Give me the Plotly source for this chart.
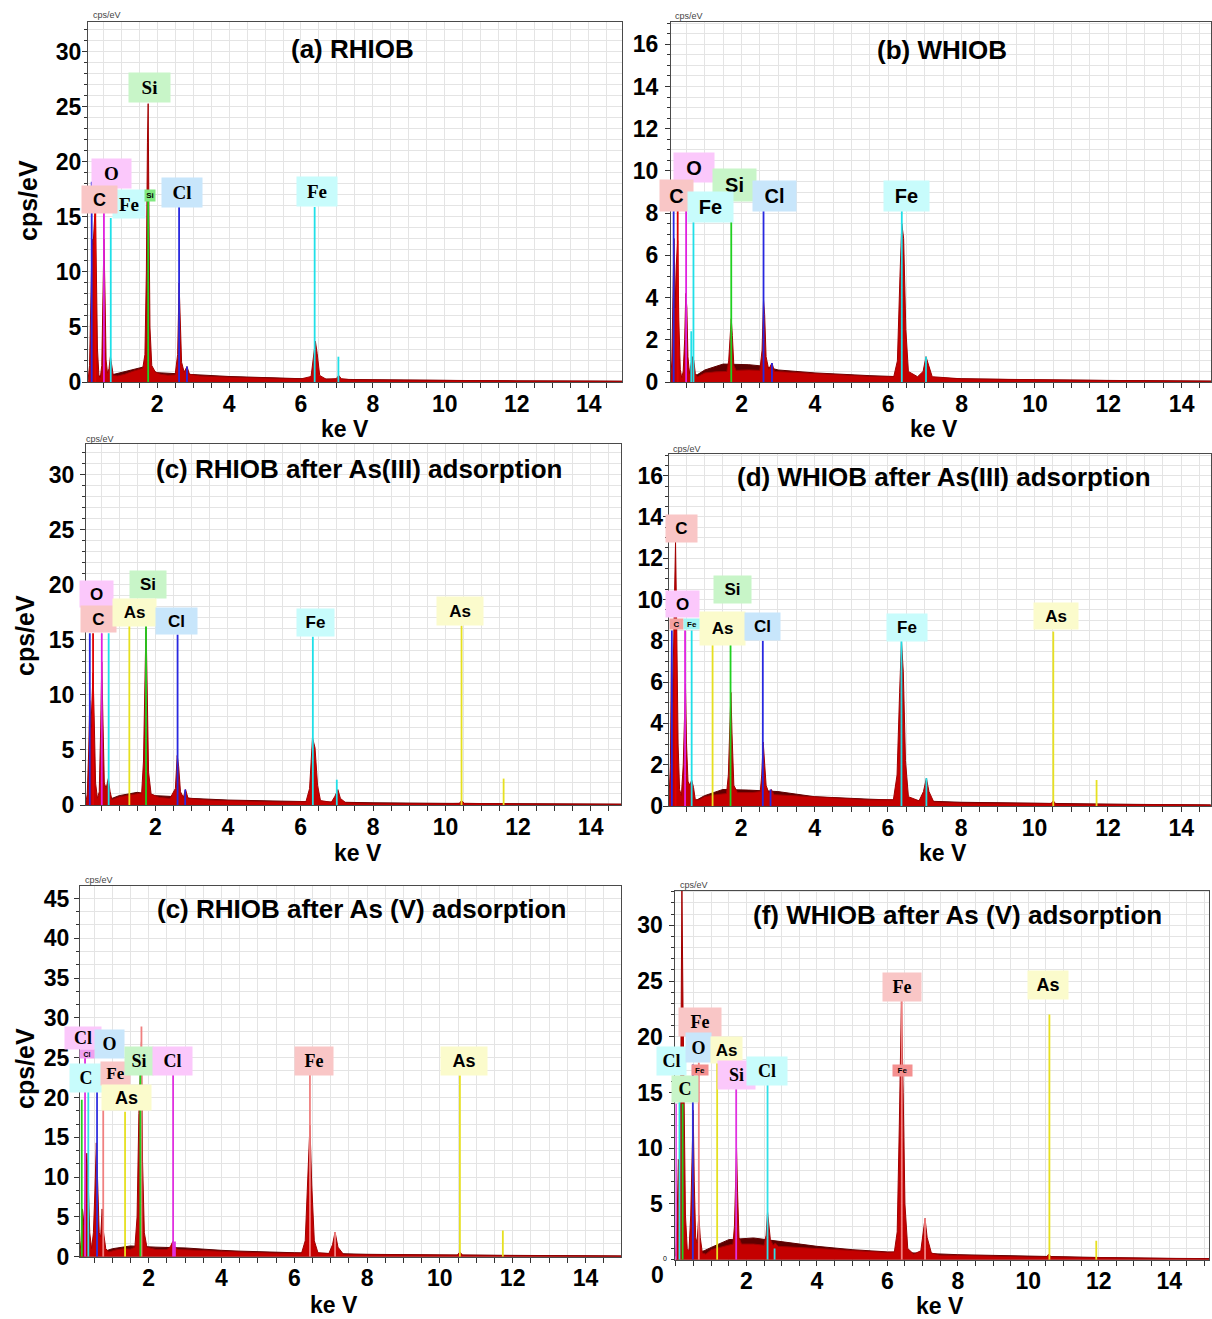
import plotly.graph_objects as go

FIG_W, FIG_H = 1212, 1332
LAYOUT_H = 1319  # vertical layout grid the panel positions are laid out on

# ---------------- EDS spectra: energy (keV) / intensity (cps/eV) ----------------
E_A = [0.08, 0.12, 0.16, 0.19, 0.22, 0.25, 0.28, 0.31, 0.34, 0.38, 0.42, 0.46, 0.49, 0.52, 0.55, 0.58,
       0.62, 0.66, 0.70, 0.74, 0.78, 0.9, 1.1, 1.3, 1.5, 1.6, 1.66, 1.70, 1.73, 1.75, 1.77, 1.80, 1.85,
       1.95, 2.1, 2.3, 2.5, 2.57, 2.61, 2.64, 2.68, 2.75, 2.83, 2.9, 3.2, 4.0, 5.0, 6.0, 6.28, 6.35, 6.40,
       6.45, 6.52, 6.7, 6.98, 7.05, 7.12, 7.4, 8.0, 9.0, 10.0, 12.0, 14.0, 14.95]
I_A = [0.2, 1.5, 8.0, 13.0, 12.5, 14.0, 16.0, 10.0, 3.0, 0.6, 0.4, 1.5, 8.0, 13.0, 8.0, 2.0,
       0.8, 1.2, 2.3, 1.2, 0.6, 0.55, 0.7, 0.95, 1.15, 1.25, 2.5, 10.0, 21.8, 25.3, 16.0, 5.0, 1.5,
       0.9, 0.7, 0.62, 0.65, 2.5, 9.0, 6.0, 1.8, 0.9, 1.4, 0.7, 0.55, 0.45, 0.36, 0.28, 0.5, 2.5, 3.7,
       2.6, 0.6, 0.25, 0.3, 0.6, 0.3, 0.2, 0.18, 0.15, 0.12, 0.1, 0.08, 0.06]
BG_E_A = [0.08, 0.3, 0.8, 1.2, 1.6, 2.0, 2.6, 3.0, 4.0, 5.0, 6.0, 8.0, 10.0, 12.0, 14.95]
BG_I_A = [0.0, 0.5, 0.7, 1.0, 1.35, 0.85, 0.75, 0.65, 0.5, 0.4, 0.3, 0.2, 0.14, 0.1, 0.07]

E_B = [0.07, 0.1, 0.13, 0.16, 0.19, 0.22, 0.26, 0.29, 0.33, 0.37, 0.41, 0.45, 0.48, 0.51, 0.54, 0.58,
       0.62, 0.66, 0.70, 0.74, 0.8, 1.0, 1.3, 1.6, 1.65, 1.69, 1.72, 1.75, 1.79, 1.85, 2.2, 2.5, 2.56,
       2.60, 2.63, 2.67, 2.74, 2.83, 2.9, 3.5, 4.5, 5.5, 6.15, 6.25, 6.32, 6.37, 6.42, 6.48, 6.55, 6.8,
       6.95, 7.03, 7.1, 7.2, 8.0, 10.0, 12.0, 14.8]
I_B = [0.1, 1.0, 4.0, 6.8, 3.5, 5.5, 6.7, 3.0, 0.6, 0.2, 0.5, 2.0, 4.2, 3.5, 1.2, 0.4,
       0.8, 1.2, 1.0, 0.4, 0.25, 0.43, 0.48, 0.5, 1.0, 2.5, 3.0, 2.2, 0.8, 0.55, 0.57, 0.55, 1.5,
       3.9, 3.2, 1.2, 0.6, 0.9, 0.5, 0.45, 0.35, 0.27, 0.25, 1.0, 5.0, 7.5, 6.8, 2.5, 0.5, 0.25,
       0.5, 1.2, 0.8, 0.25, 0.15, 0.1, 0.07, 0.04]
BG_E_B = [0.07, 0.8, 1.0, 1.5, 2.2, 2.6, 3.0, 4.0, 5.5, 8.0, 10.0, 12.0, 14.8]
BG_I_B = [0.0, 0.35, 0.57, 0.85, 0.82, 0.75, 0.57, 0.43, 0.3, 0.15, 0.1, 0.07, 0.04]

E_C = [0.08, 0.12, 0.16, 0.19, 0.22, 0.25, 0.28, 0.31, 0.35, 0.4, 0.45, 0.49, 0.52, 0.55, 0.59, 0.64,
       0.70, 0.75, 0.8, 1.0, 1.3, 1.5, 1.62, 1.67, 1.71, 1.74, 1.77, 1.81, 1.88, 2.1, 2.4, 2.55, 2.60,
       2.64, 2.69, 2.77, 2.83, 2.9, 3.5, 4.5, 5.5, 6.15, 6.25, 6.33, 6.40, 6.47, 6.55, 6.85, 6.95, 7.03,
       7.1, 7.25, 8.0, 10.0, 10.38, 10.44, 10.52, 12.0, 14.85]
I_C = [0.2, 1.0, 5.0, 9.5, 7.0, 10.2, 12.0, 8.0, 2.0, 0.6, 1.2, 7.0, 13.0, 8.0, 2.0, 1.5,
       2.4, 1.2, 0.5, 0.75, 0.9, 1.0, 1.1, 4.0, 13.0, 16.5, 11.0, 3.0, 1.0, 0.7, 0.6, 1.5, 4.5,
       3.5, 1.2, 0.7, 1.4, 0.6, 0.45, 0.35, 0.28, 0.3, 1.5, 6.1, 5.2, 1.8, 0.4, 0.25, 0.8, 1.4,
       0.6, 0.2, 0.15, 0.12, 0.15, 0.4, 0.15, 0.1, 0.07]
BG_E_C = [0.08, 0.8, 1.0, 1.5, 2.0, 2.6, 3.0, 4.0, 5.5, 8.0, 10.0, 12.0, 14.85]
BG_I_C = [0.0, 0.6, 0.85, 1.15, 0.85, 0.75, 0.6, 0.45, 0.35, 0.2, 0.15, 0.1, 0.07]

E_D = [0.03, 0.07, 0.10, 0.13, 0.17, 0.21, 0.24, 0.28, 0.32, 0.37, 0.42, 0.45, 0.48, 0.51, 0.55, 0.6,
       0.65, 0.7, 0.75, 0.85, 1.0, 1.3, 1.6, 1.65, 1.69, 1.72, 1.75, 1.8, 1.9, 2.3, 2.52, 2.56, 2.60,
       2.63, 2.68, 2.75, 2.82, 2.9, 3.5, 4.5, 5.5, 6.15, 6.25, 6.32, 6.37, 6.42, 6.48, 6.56, 6.85, 6.97,
       7.05, 7.12, 7.25, 8.0, 10.0, 10.45, 10.51, 10.58, 12.0, 14.8]
I_D = [0.3, 2.0, 8.0, 5.0, 9.0, 12.8, 9.0, 3.0, 0.8, 0.5, 2.0, 4.6, 5.9, 3.0, 1.2, 1.0,
       1.26, 0.9, 0.3, 0.3, 0.45, 0.55, 0.6, 1.5, 4.7, 5.5, 3.5, 1.0, 0.65, 0.65, 0.7, 1.5, 3.1,
       2.4, 1.0, 0.65, 0.8, 0.55, 0.5, 0.4, 0.3, 0.3, 1.5, 5.5, 8.0, 6.5, 2.2, 0.45, 0.25, 0.7,
       1.35, 0.7, 0.2, 0.15, 0.12, 0.12, 0.25, 0.1, 0.08, 0.05]
BG_E_D = [0.03, 0.8, 1.0, 1.5, 2.2, 3.0, 4.0, 5.5, 8.0, 10.0, 12.0, 14.8]
BG_I_D = [0.0, 0.3, 0.5, 0.8, 0.77, 0.7, 0.45, 0.33, 0.18, 0.13, 0.09, 0.05]

E_E = [0.11, 0.14, 0.18, 0.22, 0.26, 0.30, 0.34, 0.38, 0.43, 0.48, 0.52, 0.56, 0.60, 0.64, 0.68, 0.72,
       0.76, 0.82, 0.9, 1.1, 1.3, 1.5, 1.62, 1.68, 1.73, 1.77, 1.80, 1.83, 1.88, 1.95, 2.2, 2.5, 2.6,
       2.66, 2.72, 2.8, 3.5, 4.5, 5.5, 6.2, 6.3, 6.37, 6.43, 6.48, 6.55, 6.65, 6.95, 7.05, 7.12, 7.2,
       7.35, 8.0, 10.0, 10.48, 10.55, 10.62, 12.0, 14.99]
I_E = [0.3, 2.0, 6.0, 4.0, 9.0, 13.0, 9.0, 3.0, 1.0, 3.0, 8.0, 14.3, 9.0, 3.0, 2.5, 6.0,
       3.0, 1.0, 0.6, 0.85, 1.0, 0.95, 1.2, 5.0, 18.0, 23.0, 27.0, 12.0, 3.0, 1.2, 0.9, 0.9, 1.3,
       1.9, 1.2, 0.9, 0.75, 0.6, 0.45, 0.45, 2.0, 10.0, 16.5, 9.0, 2.0, 0.5, 0.4, 1.5, 3.1, 1.2,
       0.3, 0.25, 0.2, 0.2, 0.6, 0.2, 0.13, 0.08]
BG_E_E = [0.11, 0.8, 1.0, 1.5, 2.2, 3.0, 4.0, 4.5, 6.0, 8.0, 10.0, 12.0, 14.99]
BG_I_E = [0.0, 0.7, 1.0, 1.35, 1.2, 1.1, 0.8, 0.7, 0.5, 0.3, 0.22, 0.15, 0.09]

E_F = [-0.014, 0.03, 0.07, 0.11, 0.14, 0.17, 0.20, 0.23, 0.27, 0.32, 0.37, 0.42, 0.46, 0.49, 0.52, 0.56,
       0.60, 0.65, 0.69, 0.75, 0.85, 1.0, 1.3, 1.5, 1.62, 1.66, 1.69, 1.72, 1.75, 1.79, 1.86, 2.2, 2.5,
       2.56, 2.60, 2.63, 2.68, 2.76, 2.82, 2.9, 3.5, 4.0, 5.0, 6.0, 6.2, 6.28, 6.34, 6.40, 6.45, 6.5,
       6.58, 6.75, 6.95, 7.02, 7.07, 7.13, 7.25, 7.5, 8.0, 10.0, 10.52, 10.58, 10.65, 12.0, 14.0, 15.13]
I_F = [0.3, 3.0, 9.0, 5.0, 18.0, 33.5, 23.0, 12.0, 4.0, 1.0, 0.8, 4.0, 10.1, 13.4, 7.0, 2.0,
       1.5, 4.0, 2.0, 0.6, 0.5, 0.9, 1.15, 1.3, 1.4, 3.0, 7.0, 10.0, 6.0, 2.0, 1.4, 1.4, 1.3,
       2.2, 4.3, 3.4, 1.8, 1.3, 1.5, 1.2, 1.1, 1.0, 0.8, 0.65, 0.7, 2.5, 12.0, 23.2, 15.0, 5.0,
       1.0, 0.5, 0.8, 2.5, 3.7, 2.0, 0.6, 0.4, 0.4, 0.25, 0.25, 0.5, 0.25, 0.17, 0.1, 0.08]
BG_E_F = [-0.014, 0.8, 1.0, 1.5, 2.2, 3.0, 4.0, 5.0, 6.0, 8.0, 10.0, 12.0, 14.0, 15.13]
BG_I_F = [0.0, 0.8, 1.1, 1.8, 1.95, 1.6, 1.2, 0.9, 0.7, 0.45, 0.3, 0.2, 0.12, 0.1]

# ---------------- element marker lines: element, energy (keV), height (cps/eV) ----------------
MK_EL_A = ["ref", "C", "O", "Fe", "Si", "Cl", "Cl", "Fe", "Fe"]
MK_E_A = [0.18, 0.28, 0.52, 0.71, 1.75, 2.61, 2.83, 6.38, 7.04]
MK_H_A = [18.2, 15.4, 15.4, 14.9, 16.5, 15.9, 1.4, 15.9, 2.3]

MK_EL_B = ["ref", "C", "O", "Fe", "Fe", "Si", "Cl", "Cl", "Fe", "Fe"]
MK_E_B = [0.15, 0.26, 0.49, 0.63, 0.69, 1.72, 2.60, 2.83, 6.37, 7.03]
MK_H_B = [8.15, 8.15, 9.5, 2.4, 7.6, 7.6, 8.1, 0.9, 8.1, 1.2]

MK_EL_C = ["ref", "C", "O", "Fe", "As", "Si", "Cl", "Cl", "Fe", "Fe", "As", "As"]
MK_E_C = [0.19, 0.28, 0.52, 0.71, 1.28, 1.74, 2.61, 2.82, 6.34, 7.00, 10.44, 11.60]
MK_H_C = [15.6, 15.6, 15.6, 15.6, 16.3, 16.3, 15.5, 1.4, 15.3, 2.3, 16.3, 2.4]

MK_EL_D = ["ref", "C", "O", "Fe", "As", "Si", "Cl", "Cl", "Fe", "Fe", "As", "As"]
MK_E_D = [0.11, 0.21, 0.47, 0.65, 1.22, 1.71, 2.59, 2.80, 6.37, 7.05, 10.51, 11.69]
MK_H_D = [8.5, 8.5, 8.5, 8.5, 7.8, 7.8, 8.0, 0.8, 8.0, 1.35, 8.45, 1.26]

MK_EL_E = ["ref", "Cl", "C", "O", "Fe", "As", "Fe", "Si", "Cl", "Cl", "Fe", "Fe", "As", "As"]
MK_E_E = [0.16, 0.25, 0.34, 0.58, 0.75, 1.35, 1.80, 1.77, 2.67, 2.72, 6.43, 7.12, 10.55, 11.73]
MK_H_E = [19.7, 25.1, 20.9, 21.8, 18.4, 18.2, 28.9, 23.0, 22.9, 1.9, 22.9, 3.1, 22.8, 3.3]

MK_EL_F = ["Si", "Cl", "C", "O", "Fe", "As", "Si", "Cl", "Cl", "Fe", "Fe", "As", "As"]
MK_E_F = [0.0, 0.10, 0.19, 0.48, 0.65, 1.17, 1.71, 2.60, 2.80, 6.41, 7.07, 10.60, 11.93]
MK_H_F = [14.0, 15.5, 14.0, 17.5, 17.7, 17.8, 15.4, 15.7, 1.0, 23.3, 3.7, 22.0, 1.7]

# ---------------- tick labels ----------------
X_TICKS = [2, 4, 6, 8, 10, 12, 14]
Y_TICKS_A = [0, 5, 10, 15, 20, 25, 30]
Y_TICKS_B = [0, 2, 4, 6, 8, 10, 12, 14, 16]
Y_TICKS_C = [0, 5, 10, 15, 20, 25, 30]
Y_TICKS_D = [0, 2, 4, 6, 8, 10, 12, 14, 16]
Y_TICKS_E = [0, 5, 10, 15, 20, 25, 30, 35, 40, 45]
Y_TICKS_F = [5, 10, 15, 20, 25, 30]

TITLES = ["(a) RHIOB", "(b) WHIOB", "(c) RHIOB after As(III) adsorption",
          "(d) WHIOB after As(III) adsorption", "(c) RHIOB after As (V) adsorption",
          "(f) WHIOB after As (V) adsorption"]

# ---------------- styles ----------------
SANS = "Liberation Sans, Arial, sans-serif"
SERIF = "Liberation Serif, Times New Roman, serif"
PINK, SALMON, CYAN, SKY, GREEN, YELLOW = "#fbc8fb", "#f9c6c6", "#c8fcfc", "#c8e6fb", "#c8f5c8", "#fbfbcc"
RED_FILL, MAROON = "#c40000", "#5e0000"

COLS_STD = {"ref": "#2828e0", "C": "#e00000", "O": "#e020e0", "Fe": "#20e0e8",
            "Si": "#20d020", "Cl": "#2828e0", "As": "#e6e020"}
COLS_E = {"ref": "#20d020", "Cl": "#e030e0", "C": "#30e0e8", "O": "#3030e0",
          "Fe": "#f08080", "Si": "#20d020", "As": "#e6e020"}
COLS_F = {"Si": "#e030e0", "Cl": "#30e0e8", "C": "#20d020", "O": "#3030e0",
          "Fe": "#f08080", "As": "#e6e020"}

# element labels: text, x (keV), y (cps/eV), box w, box h, fill, font, size
LBL_A = [("O", 0.72, 18.93, 39, 29, PINK, SERIF, 19), ("Fe", 1.22, 16.16, 32, 28, CYAN, SERIF, 19),
         ("C", 0.386, 16.55, 35, 27, SALMON, SANS, 18), ("Si", 1.79, 26.73, 41, 29, GREEN, SERIF, 19),
         ("Si", 1.80, 16.97, 10, 11, "#80e880", SANS, 8), ("Cl", 2.69, 17.27, 40, 29, SKY, SERIF, 19),
         ("Fe", 6.44, 17.3, 40, 29, CYAN, SERIF, 19)]
LBL_B = [("O", 0.695, 10.14, 40, 29, PINK, SANS, 20), ("Si", 1.81, 9.35, 43, 32, GREEN, SANS, 20),
         ("C", 0.235, 8.84, 33, 31, SALMON, SANS, 20), ("Fe", 1.15, 8.31, 45, 30, CYAN, SANS, 20),
         ("Cl", 2.89, 8.82, 43, 30, SKY, SANS, 20), ("Fe", 6.49, 8.82, 45, 30, CYAN, SANS, 20)]
LBL_C = [("O", 0.386, 19.2, 33, 26, PINK, SANS, 17), ("C", 0.418, 16.86, 35, 26, SALMON, SANS, 17),
         ("Si", 1.79, 20.06, 36, 27, GREEN, SANS, 17), ("As", 1.43, 17.5, 43, 27, YELLOW, SANS, 17),
         ("Cl", 2.57, 16.7, 41, 26, SKY, SANS, 17), ("Fe", 6.42, 16.6, 37, 27, CYAN, SANS, 17),
         ("As", 10.40, 17.6, 46, 28, YELLOW, SANS, 17)]
LBL_D = [("C", 0.376, 13.45, 31, 27, SALMON, SANS, 17), ("O", 0.41, 9.8, 33, 26, PINK, SANS, 17),
         ("C", 0.226, 8.81, 13, 10, "#f4a0a0", SANS, 8), ("Fe", 0.648, 8.81, 16, 10, "#a0f4f4", SANS, 8),
         ("Si", 1.77, 10.47, 37, 27, GREEN, SANS, 17), ("As", 1.50, 8.62, 45, 33, YELLOW, SANS, 17),
         ("Cl", 2.59, 8.69, 35, 27, SKY, SANS, 17), ("Fe", 6.53, 8.67, 40, 27, CYAN, SANS, 17),
         ("As", 10.59, 9.19, 44, 26, YELLOW, SANS, 17)]
LBL_E = [("Cl", 0.19, 27.5, 36, 22, PINK, SERIF, 18), ("O", 0.92, 26.7, 29, 28, SKY, SERIF, 18),
         ("Cl", 0.30, 25.4, 14, 8, "#f0a0f0", SANS, 7), ("C", 0.27, 22.5, 32, 28, CYAN, SERIF, 18),
         ("Fe", 1.10, 23.0, 29, 23, SALMON, SERIF, 17), ("Si", 1.73, 24.6, 28, 28, GREEN, SERIF, 18),
         ("As", 1.38, 20.0, 49, 25, YELLOW, SANS, 18), ("Cl", 2.64, 24.6, 39, 28, PINK, SERIF, 18),
         ("Fe", 6.55, 24.6, 38, 28, SALMON, SERIF, 18), ("As", 10.66, 24.6, 46, 28, YELLOW, SANS, 18)]
LBL_F = [("C", 0.255, 15.35, 26, 26, GREEN, SERIF, 18),
         ("Fe", 0.695, 21.3, 42, 28, SALMON, SERIF, 18), ("O", 0.63, 19.0, 25, 29, SKY, SERIF, 18),
         ("As", 1.43, 18.85, 31, 26, YELLOW, SANS, 17), ("Fe", 0.68, 17.0, 16, 10, "#f49090", SANS, 8),
         ("Si", 1.71, 16.6, 37, 28, PINK, SERIF, 18), ("Cl", 2.58, 16.95, 40, 28, CYAN, SERIF, 18),
         ("Fe", 6.41, 24.5, 38, 28, SALMON, SERIF, 18), ("Fe", 6.42, 17.0, 19, 11, "#f49090", SANS, 8),
         ("As", 10.56, 24.66, 40, 28, YELLOW, SANS, 18)]
# label box that sits left of the last panel's axis (pixel position)
LBL_F_OUT = ("Cl", 672, 1061, 29, 28, CYAN, SERIF, 18)

# panel geometry in pixels: plot box (left, right, top, bottom), axis ranges, grid steps
PANELS = [
    dict(E=E_A, I=I_A, bE=BG_E_A, bI=BG_I_A, el=MK_EL_A, me=MK_E_A, mh=MK_H_A, cols=COLS_STD, lbl=LBL_A,
         box=(88, 623, 21.7, 382), xr=[0.075, 14.94], yr=[0, 32.75], yt=Y_TICKS_A, ymin=1, ystand=-4,
         title=(353, 49), ytitle=(28, 200), xtitle=(345, 429), cps=(107, 15)),
    dict(E=E_B, I=I_B, bE=BG_E_B, bI=BG_I_B, el=MK_EL_B, me=MK_E_B, mh=MK_H_B, cols=COLS_STD, lbl=LBL_B,
         box=(671.5, 1212, 21.7, 382), xr=[0.076, 14.80], yr=[0, 17.07], yt=Y_TICKS_B, ymin=0.5, ystand=2,
         title=(943, 50), ytitle=None, xtitle=(935, 429), cps=(690, 16)),
    dict(E=E_C, I=I_C, bE=BG_E_C, bI=BG_I_C, el=MK_EL_C, me=MK_E_C, mh=MK_H_C, cols=COLS_STD, lbl=LBL_C,
         box=(86, 622, 444, 805), xr=[0.083, 14.85], yr=[0, 32.8], yt=Y_TICKS_C, ymin=1, ystand=1,
         title=(359, 469), ytitle=(25, 635), xtitle=(358, 853), cps=(100, 439)),
    dict(E=E_D, I=I_D, bE=BG_E_D, bI=BG_I_D, el=MK_EL_D, me=MK_E_D, mh=MK_H_D, cols=COLS_STD, lbl=LBL_D,
         box=(669.3, 1212, 454, 806), xr=[0.025, 14.81], yr=[0, 17.05], yt=Y_TICKS_D, ymin=0.5, ystand=-5,
         title=(945, 477), ytitle=None, xtitle=(944, 853), cps=(688, 449)),
    dict(E=E_E, I=I_E, bE=BG_E_E, bI=BG_I_E, el=MK_EL_E, me=MK_E_E, mh=MK_H_E, cols=COLS_E, lbl=LBL_E,
         box=(80, 622, 885.7, 1256.7), xr=[0.11, 14.99], yr=[0, 46.6], yt=Y_TICKS_E, ymin=5 / 3, ystand=0,
         title=(362, 909), ytitle=(25, 1068), xtitle=(334, 1305), cps=(99, 880)),
    dict(E=E_F, I=I_F, bE=BG_E_F, bI=BG_I_F, el=MK_EL_F, me=MK_E_F, mh=MK_H_F, cols=COLS_F, lbl=LBL_F,
         box=(676, 1210, 890.7, 1259.7), xr=[-0.014, 15.13], yr=[0, 33.1], yt=Y_TICKS_F, ymin=1, ystand=2,
         title=(958, 915), ytitle=None, xtitle=(941, 1306), cps=(695, 885)),
]

GRID = "#e4e4e4"
AXIS_LINE = "#4a4a4a"
TICKFONT = dict(family=SANS, size=23, color="black", weight="bold")


def px(x, y):
    return x / FIG_W, 1 - y / LAYOUT_H


def label_box(text, w, h, fill, fam, size, **pos):
    return dict(text="<b>%s</b>" % text, showarrow=False, bgcolor=fill, width=w, height=h, borderpad=0,
                align="center", valign="middle", xanchor="center", yanchor="middle",
                font=dict(family=fam, size=size, color="black"), **pos)


fig = go.Figure()
annotations = []
layout = {}

for k, p in enumerate(PANELS):
    n = "" if k == 0 else str(k + 1)
    xa, ya = "x" + n, "y" + n
    # continuum (darker layer) and measured spectrum
    fig.add_trace(go.Scatter(x=p["bE"], y=p["bI"], xaxis=xa, yaxis=ya, mode="lines", fill="tozeroy",
                             fillcolor=MAROON, line=dict(color=MAROON, width=1), hoverinfo="skip",
                             showlegend=False))
    fig.add_trace(go.Scatter(x=p["E"], y=p["I"], xaxis=xa, yaxis=ya, mode="lines", fill="tozeroy",
                             fillcolor=RED_FILL, line=dict(color="#a00000", width=1), hoverinfo="skip",
                             showlegend=False))
    # element marker lines
    for el, e, h in zip(p["el"], p["me"], p["mh"]):
        fig.add_trace(go.Scatter(x=[e, e], y=[0, h], xaxis=xa, yaxis=ya, mode="lines",
                                 line=dict(color=p["cols"][el], width=1.8), hoverinfo="skip",
                                 showlegend=False))

    l, r, t, b = p["box"]
    layout["xaxis" + n] = dict(
        domain=[l / FIG_W, min(r / FIG_W, 1.0)], range=p["xr"], anchor=ya,
        tickmode="array", tickvals=X_TICKS, ticktext=[str(v) for v in X_TICKS],
        tickfont=TICKFONT, ticks="outside", ticklen=5, tickcolor="#333", ticklabelstandoff=-4,
        showgrid=True, gridcolor=GRID, gridwidth=1, zeroline=False,
        showline=True, linecolor=AXIS_LINE, linewidth=1, mirror=True,
        minor=dict(dtick=0.5, tick0=0, ticks="outside", ticklen=5, tickcolor="#333",
                   showgrid=True, gridcolor=GRID, gridwidth=1),
    )
    layout["yaxis" + n] = dict(
        domain=[1 - b / LAYOUT_H, 1 - t / LAYOUT_H], range=p["yr"], anchor=xa,
        tickmode="array", tickvals=p["yt"], ticktext=[str(v) for v in p["yt"]],
        tickfont=TICKFONT, ticks="outside", ticklen=5, tickcolor="#333", ticklabelstandoff=p["ystand"],
        showgrid=True, gridcolor=GRID, gridwidth=1, zeroline=False,
        showline=True, linecolor=AXIS_LINE, linewidth=1, mirror=True,
        minor=dict(dtick=p["ymin"], tick0=0, ticks="outside", ticklen=3, tickcolor="#333",
                   showgrid=True, gridcolor=GRID, gridwidth=1),
    )

    # element label boxes
    if k == 5:
        text, bx, by, w, h, fill, fam, size = LBL_F_OUT
        qx, qy = px(bx, by)
        annotations.append(label_box(text, w, h, fill, fam, size, xref="paper", yref="paper", x=qx, y=qy))
    for text, x, y, w, h, fill, fam, size in p["lbl"]:
        annotations.append(label_box(text, w, h, fill, fam, size, xref=xa, yref=ya, x=x, y=y))

    # panel title, axis titles, unit caption
    tx, ty = px(*p["title"])
    annotations.append(dict(xref="paper", yref="paper", x=tx, y=ty, text="<b>%s</b>" % TITLES[k],
                            showarrow=False, xanchor="center", yanchor="middle",
                            font=dict(family=SANS, size=26, color="black")))
    kx, ky = px(*p["xtitle"])
    annotations.append(dict(xref="paper", yref="paper", x=kx, y=ky, text="<b>ke V</b>", showarrow=False,
                            xanchor="center", yanchor="middle", font=dict(family=SANS, size=23, color="black")))
    if p["ytitle"]:
        yx, yy = px(*p["ytitle"])
        annotations.append(dict(xref="paper", yref="paper", x=yx, y=yy, text="<b>cps/eV</b>",
                                showarrow=False, textangle=-90, xanchor="center", yanchor="middle",
                                font=dict(family=SANS, size=25, color="black")))
    cx, cy = px(*p["cps"])
    annotations.append(dict(xref="paper", yref="paper", x=cx, y=cy, text="cps/eV", showarrow=False,
                            xanchor="center", yanchor="middle", font=dict(family=SANS, size=9, color="#444")))

# zero label of the last panel sits below its axis
zx, zy = px(658, 1275)
annotations.append(dict(xref="paper", yref="paper", x=zx, y=zy, text="<b>0</b>", showarrow=False,
                        xanchor="center", yanchor="middle", font=dict(family=SANS, size=23, color="black")))
zx, zy = px(666, 1258)
annotations.append(dict(xref="paper", yref="paper", x=zx, y=zy, text="0", showarrow=False,
                        xanchor="center", yanchor="middle", font=dict(family=SANS, size=7, color="black")))

fig.update_layout(
    width=FIG_W, height=FIG_H, autosize=False,
    margin=dict(l=0, r=0, t=0, b=0),
    paper_bgcolor="white", plot_bgcolor="white",
    showlegend=False, annotations=annotations, **layout,
)

fig.write_html("out.html")
